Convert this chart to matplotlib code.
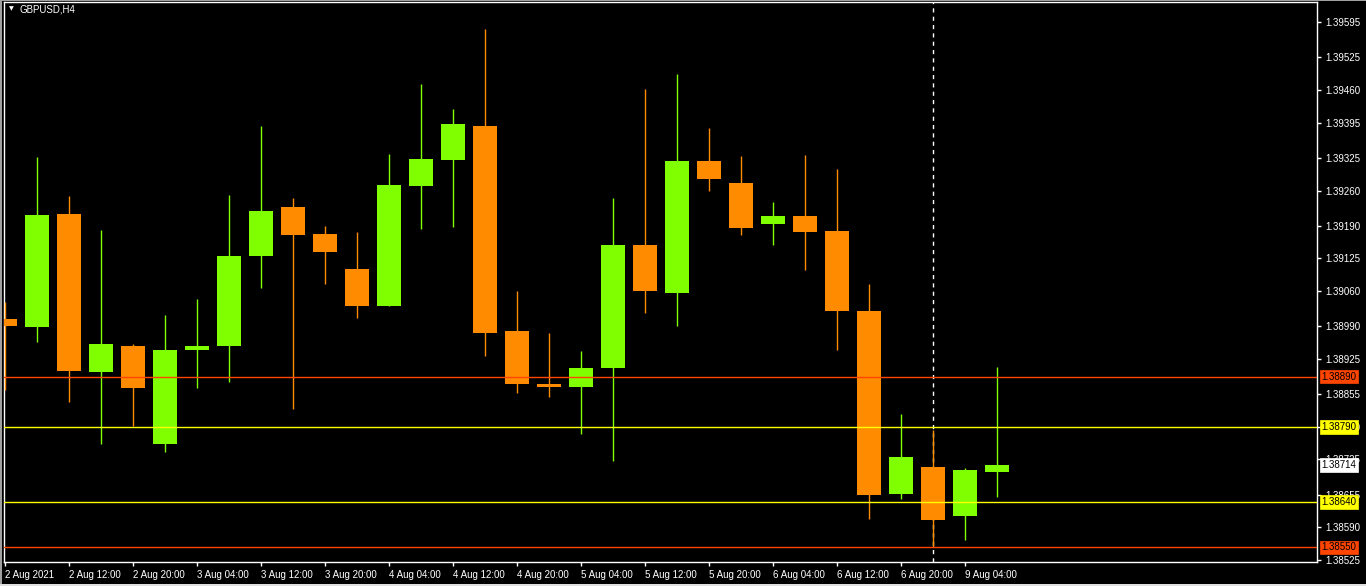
import matplotlib
matplotlib.use("Agg")
import matplotlib.pyplot as plt
from matplotlib.patches import Rectangle
from matplotlib.lines import Line2D

symbol = "GBPUSD,H4"

opens = [1.39005, 1.38988, 1.39214, 1.38898, 1.38951, 1.38755, 1.38942, 1.38951,
         1.39129, 1.39228, 1.39174, 1.39104, 1.39030, 1.39268, 1.39320, 1.39389,
         1.38981, 1.38875, 1.38870, 1.38906, 1.39152, 1.39057, 1.39318, 1.39274,
         1.39193, 1.39210, 1.39180, 1.39021, 1.38657, 1.38710, 1.38613, 1.38701]
highs = [1.39039, 1.39327, 1.39250, 1.39182, 1.38955, 1.39013, 1.39045, 1.39252,
         1.39389, 1.39246, 1.39190, 1.39178, 1.39333, 1.39472, 1.39423, 1.39582,
         1.39061, 1.38977, 1.38941, 1.39246, 1.39461, 1.39492, 1.39385, 1.39329,
         1.39238, 1.39331, 1.39303, 1.39074, 1.38816, 1.38783, 1.38708, 1.38908]
lows = [1.38864, 1.38959, 1.38840, 1.38755, 1.38791, 1.38739, 1.38868, 1.38880,
        1.39067, 1.38825, 1.39075, 1.39006, 1.39030, 1.39183, 1.39187, 1.38930,
        1.38858, 1.38850, 1.38775, 1.38721, 1.39017, 1.38991, 1.39259, 1.39171,
        1.39151, 1.39101, 1.38942, 1.38607, 1.38647, 1.38551, 1.38564, 1.38651]
closes = [1.38990, 1.39212, 1.38900, 1.38955, 1.38868, 1.38943, 1.38951, 1.39130,
          1.39220, 1.39171, 1.39137, 1.39030, 1.39270, 1.39323, 1.39393, 1.38976,
          1.38876, 1.38870, 1.38906, 1.39152, 1.39061, 1.39318, 1.39282, 1.39185,
          1.39210, 1.39177, 1.39021, 1.38655, 1.38730, 1.38605, 1.38704, 1.38714]

time_labels = ["2 Aug 2021", "2 Aug 12:00", "2 Aug 20:00", "3 Aug 04:00",
               "3 Aug 12:00", "3 Aug 20:00", "4 Aug 04:00", "4 Aug 12:00",
               "4 Aug 20:00", "5 Aug 04:00", "5 Aug 12:00", "5 Aug 20:00",
               "6 Aug 04:00", "6 Aug 12:00", "6 Aug 20:00", "9 Aug 04:00"]
label_step = 2

price_ticks = [1.39595, 1.39525, 1.39460, 1.39395, 1.39325, 1.39260, 1.39190,
               1.39125, 1.39060, 1.38990, 1.38925, 1.38855, 1.38790, 1.38725,
               1.38655, 1.38590, 1.38525]

red_levels = [1.38890, 1.38550]
yellow_levels = [1.38790, 1.38640]
current_price = 1.38714
separator_bar = 29

BULL = "#7FFF00"
BEAR = "#FF8C00"
RED = "#FF4500"
YEL = "#FFFF00"

W, H = 1366, 586
fig = plt.figure(figsize=(W / 100, H / 100), dpi=100, facecolor="black")
left_px, right_px, top_px, bot_px = 4, 1317, 2, 562
ax = fig.add_axes([left_px / W, 1 - bot_px / H, (right_px - left_px) / W, (bot_px - top_px) / H])
ax.set_facecolor("black")

n = len(opens)
xs = list(range(n))
body_w = 0.78
for x, o, h, l, c in zip(xs, opens, highs, lows, closes):
    col = BULL if c >= o else BEAR
    ax.vlines(x, l, h, color=col, lw=1, zorder=3)
    ax.bar(x, abs(c - o), bottom=min(o, c), width=body_w, color=col, zorder=4, linewidth=0)

# week separator
ax.axvline(separator_bar, color="white", lw=1, ls=(0, (3, 3)), zorder=2)

for lv in red_levels:
    ax.axhline(lv, color=RED, lw=1, zorder=5)
for lv in yellow_levels:
    ax.axhline(lv, color=YEL, lw=1, zorder=5)

ax.set_xlim(-1 / 32, (right_px - left_px) / 32 - 1 / 32)
ax.set_ylim(1.38521, 1.39635)

for s in ["left", "top"]:
    ax.spines[s].set_visible(True)
for s in ax.spines.values():
    s.set_color("white")
    s.set_linewidth(1)

font = "Liberation Sans"
ax.yaxis.tick_right()
ax.set_yticks(price_ticks)
ax.set_yticklabels([f"{p:.5f}" for p in price_ticks], family=font, fontsize=7, color="white")
ax.tick_params(axis="y", direction="out", length=3, width=1, color="white", pad=3)

ax.set_xticks(xs[::label_step][:len(time_labels)])
ax.set_xticklabels(time_labels, family=font, fontsize=7, color="white")
for lab in ax.get_xticklabels():
    lab.set_ha("left")
ax.tick_params(axis="x", direction="out", length=3, width=1, color="white", pad=3)

def price_box(val, face, txt="black"):
    ax.annotate(f"{val:.5f}", xy=(1.0, val), xycoords=("axes fraction", "data"),
                xytext=(3.2, 0), textcoords="offset points", ha="left", va="center",
                fontsize=7, family=font, color=txt, zorder=10, annotation_clip=False,
                bbox=dict(boxstyle="square,pad=0.18", fc=face, ec=face, lw=0.5))

for lv in red_levels:
    price_box(lv, RED)
for lv in yellow_levels:
    price_box(lv, YEL)
price_box(current_price, "white")

# title
fig.text(9 / W, 1 - 9 / H, "\u25BC", color="white", fontsize=4.5, ha="left", va="center",
         family="DejaVu Sans")
fig.text(20 / W, 1 - 9 / H, symbol, color="white", fontsize=7, ha="left", va="center",
         family=font)

# window edges
fig.add_artist(Rectangle((0, 0), 2 / W, 1, transform=fig.transFigure, fc="#a0a0a0", ec="none"))
fig.add_artist(Rectangle((0, 1 - 1 / H), 1, 1 / H, transform=fig.transFigure, fc="#a0a0a0", ec="none"))
fig.add_artist(Rectangle((0, 0), 1, 2 / H, transform=fig.transFigure, fc="#e0e0e0", ec="none"))

fig.savefig("out.png", dpi=100, facecolor="black")
